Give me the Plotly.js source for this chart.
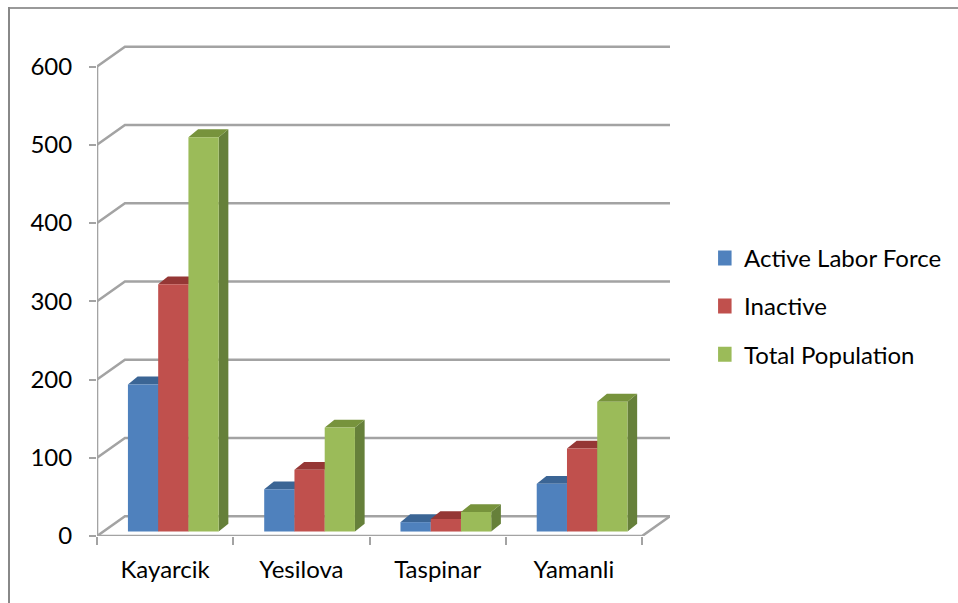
<!DOCTYPE html>
<html>
<head>
<meta charset="utf-8">
<script src="https://cdn.plot.ly/plotly-3.0.1.min.js"></script>
<style>
html,body{margin:0;padding:0;background:#fff;overflow:hidden}
#chart{position:absolute;left:0;top:0;width:958px;height:603px}
#frameTop{position:absolute;left:8px;top:7px;right:0;height:2px;background:#999}
#frameLeft{position:absolute;left:8px;top:7px;bottom:0;width:2px;background:#888}
</style>
</head>
<body>
<div id="chart"></div>
<div id="frameTop"></div>
<div id="frameLeft"></div>
<script>
var categories = ["Kayarcik", "Yesilova", "Taspinar", "Yamanli"];
var seriesNames = ["Active Labor Force", "Inactive", "Total Population"];
var activeLaborForce = [188, 54, 12, 61];
var inactive = [316, 79, 16, 106];
var totalPopulation = [504, 133, 25, 166];
var yTicks = [0, 100, 200, 300, 400, 500, 600];

var seriesValues = [activeLaborForce, inactive, totalPopulation];
var frontColors = ["#4f81bd", "#c0504d", "#9bbb59"];
var topColors = ["#3b6595", "#953735", "#77933c"];
var sideColors = ["#345a87", "#833030", "#66803a"];

var gridColor = "#a3a3a3";
var fontFamily = "Lato, 'Open Sans', sans-serif";
var fontSize = 24;

// Depth of the fake 3D box, in axis units
var wallDx = 0.205, wallDy = 25.2;
var barDx = 0.071, barDy = 10;
var barBase = 5.7;
var barWidth = 0.222, barStart = 0.227;
var xRange = [0, 4.205], yRange = [0, 632.6];

var traces = [];

// Back wall gridlines and floor
var gx = [], gy = [];
yTicks.forEach(function (v) {
  gx.push(0, wallDx, categories.length + wallDx, null);
  gy.push(v, v + wallDy, v + wallDy, null);
});
gx.push(0, categories.length, categories.length + wallDx, null, 0, 0);
gy.push(0, 0, wallDy, null, 0, yTicks[yTicks.length - 1]);
traces.push({
  type: "scatter", mode: "lines", x: gx, y: gy, xaxis: "x", yaxis: "y",
  line: {color: gridColor, width: 2.6}, cliponaxis: false,
  hoverinfo: "skip", showlegend: false
});

// Tops and sides of the columns
seriesValues.forEach(function (vals, k) {
  var tx = [], ty = [], sx = [], sy = [];
  vals.forEach(function (v, i) {
    var l = i + barStart + k * barWidth, r = l + barWidth, t = barBase + v;
    tx.push(l, l + barDx, r + barDx, r, l, null);
    ty.push(t, t + barDy, t + barDy, t, t, null);
    sx.push(r, r + barDx, r + barDx, r, r, null);
    sy.push(barBase, barBase + barDy, t + barDy, t, barBase, null);
  });
  traces.push({type: "scatter", mode: "lines", x: sx, y: sy, fill: "toself", fillcolor: sideColors[k],
    line: {width: 0, color: sideColors[k]}, hoverinfo: "skip", showlegend: false, xaxis: "x", yaxis: "y"});
  traces.push({type: "scatter", mode: "lines", x: tx, y: ty, fill: "toself", fillcolor: topColors[k],
    line: {width: 0, color: topColors[k]}, hoverinfo: "skip", showlegend: false, xaxis: "x", yaxis: "y"});
});

// Front faces of the columns
seriesValues.forEach(function (vals, k) {
  traces.push({
    type: "bar", name: seriesNames[k], orientation: "v",
    x: vals.map(function (v, i) { return i + barStart + (k + 0.5) * barWidth; }),
    y: vals, base: vals.map(function () { return barBase; }), width: barWidth,
    marker: {color: frontColors[k], line: {width: 0}},
    xaxis: "x2", yaxis: "y2", showlegend: false,
    hovertemplate: seriesNames[k] + ": %{y}<extra></extra>"
  });
});

// Legend entries
seriesNames.forEach(function (name, k) {
  traces.push({
    type: "scatter", mode: "markers", name: name, x: [null], y: [null],
    legendgroup: name, xaxis: "x", yaxis: "y",
    marker: {symbol: "square", size: 15, color: frontColors[k]}
  });
});

var layout = {
  width: 958, height: 603,
  margin: {l: 97, r: 287, t: 40.5, b: 67, pad: 0},
  paper_bgcolor: "#ffffff", plot_bgcolor: "rgba(0,0,0,0)",
  font: {family: fontFamily, size: fontSize, color: "#000000"},
  showlegend: true,
  legend: {
    x: 1.082, y: 0.464, xanchor: "left", yanchor: "middle",
    traceorder: "grouped", tracegroupgap: 14, itemsizing: "trace",
    indentation: -14, bgcolor: "rgba(0,0,0,0)",
    font: {family: fontFamily, size: fontSize, color: "#000000"}
  },
  xaxis: {
    type: "linear", range: xRange, fixedrange: true, showgrid: false, zeroline: false, showline: false,
    tickmode: "array", tickvals: categories.map(function (c, i) { return i + 0.5; }), ticktext: categories,
    ticks: "", ticklabelstandoff: 17,
    minor: {tickmode: "array", tickvals: [0, 1, 2, 3, 4], ticks: "outside", ticklen: 8, tickwidth: 2, tickcolor: gridColor, showgrid: false}
  },
  yaxis: {
    type: "linear", range: yRange, fixedrange: true, showgrid: false, zeroline: false, showline: false,
    tickmode: "array", tickvals: yTicks, ticks: "outside", ticklen: 7, tickwidth: 2, tickcolor: gridColor,
    ticklabelstandoff: 12
  },
  xaxis2: {overlaying: "x", range: xRange, visible: false, fixedrange: true, anchor: "y2"},
  yaxis2: {overlaying: "y", range: yRange, visible: false, fixedrange: true, anchor: "x2"},
  barmode: "overlay"
};

Plotly.newPlot("chart", traces, layout, {displayModeBar: false, staticPlot: false});
</script>
</body>
</html>
